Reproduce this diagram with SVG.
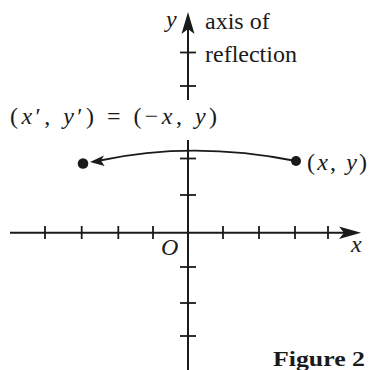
<svg xmlns="http://www.w3.org/2000/svg" width="370" height="370" viewBox="0 0 370 370">
<style>
.ax{stroke:#1a1a1a;stroke-width:2;fill:none}
.tk{stroke:#1a1a1a;stroke-width:1.8}
.t{font-family:"Liberation Serif","Times New Roman",serif;font-size:24px;fill:#1a1a1a}
.i{font-style:italic}
.b{font-weight:bold;font-size:21px}
.arr{fill:#1a1a1a}
</style>
<rect width="370" height="370" fill="#fff"/>
<g id="axes">
<line class="ax" x1="10" y1="232.7" x2="350" y2="232.7"/>
<path class="arr" d="M361,232.7 L339,226.5 L344,232.7 L339,238.9 Z"/>
<line class="ax" x1="188" y1="28" x2="188" y2="100"/>
<line class="ax" x1="188" y1="140" x2="188" y2="370"/>
<path class="arr" d="M188,12 L181.5,34 L188,29 L194.5,34 Z"/>
<g class="tk">
<line x1="45" y1="226" x2="45" y2="239"/>
<line x1="81.7" y1="226" x2="81.7" y2="239"/>
<line x1="118.3" y1="226" x2="118.3" y2="239"/>
<line x1="153" y1="226" x2="153" y2="239"/>
<line x1="223" y1="226" x2="223" y2="239"/>
<line x1="259" y1="226" x2="259" y2="239"/>
<line x1="295" y1="226" x2="295" y2="239"/>
<line x1="328" y1="226" x2="328" y2="239"/>
<line x1="180" y1="52.5" x2="196" y2="52.5"/>
<line x1="180" y1="86" x2="196" y2="86"/>
<line x1="180" y1="158.5" x2="196" y2="158.5"/>
<line x1="180" y1="195" x2="196" y2="195"/>
<line x1="180" y1="267" x2="196" y2="267"/>
<line x1="180" y1="303" x2="196" y2="303"/>
<line x1="180" y1="336" x2="196" y2="336"/>
</g>
</g>
<g id="connectors">
<path d="M296,161 Q193,140.5 100,160.5" fill="none" stroke="#1a1a1a" stroke-width="1.8"/>
<path class="arr" d="M90,162 L104,155.5 L101,160.5 L104.5,166 Z"/>
</g>
<g id="point-original">
<circle cx="296" cy="161" r="5" fill="#1a1a1a"/>
<text class="t" x="307" y="170" textLength="60" lengthAdjust="spacing">(<tspan class="i">x</tspan>, <tspan class="i">y</tspan>)</text>
</g>
<g id="point-image">
<circle cx="83" cy="163.5" r="5.3" fill="#1a1a1a"/>
<text class="t" x="10" y="124" textLength="207" lengthAdjust="spacing">(<tspan class="i">x</tspan>′, <tspan class="i">y</tspan>′) = (−<tspan class="i">x</tspan>, <tspan class="i">y</tspan>)</text>
</g>
<g id="labels">
<text class="t i" x="166" y="27">y</text>
<text class="t" x="205" y="29">axis of</text>
<text class="t" x="205" y="62">reflection</text>
<text class="t i" x="161" y="255">O</text>
<text class="t i" x="351" y="252">x</text>
<text class="t b" x="273" y="366" textLength="92" lengthAdjust="spacingAndGlyphs">Figure 2</text>
</g>
</svg>
